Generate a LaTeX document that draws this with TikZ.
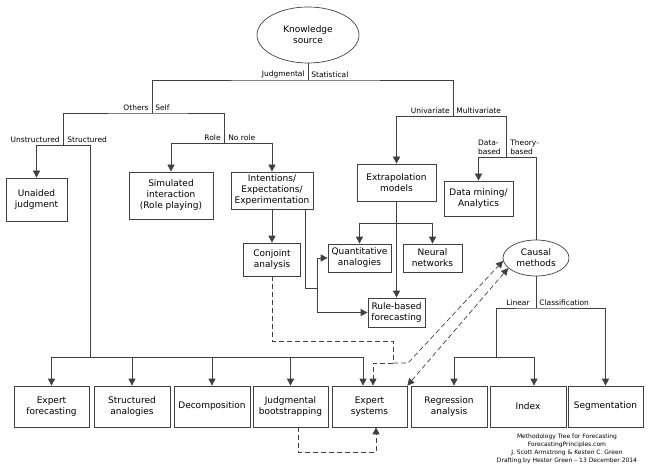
\documentclass[tikz,border=0pt]{standalone}
\usepackage{fontspec}
\setmainfont{DejaVu Sans}
\usetikzlibrary{shapes.geometric,arrows.meta}

\begin{document}
\begin{tikzpicture}[x=1pt, y=-1pt, line width=0.7pt,
    method/.style={rectangle, draw=black!75, inner sep=1pt, align=center, font=\fontsize{9}{11}\selectfont},
    hub/.style={ellipse, draw=black!75, inner sep=1pt, align=center, font=\fontsize{9}{11}\selectfont},
    branch/.style={inner sep=1pt, font=\fontsize{7.5}{9.5}\selectfont},
    flow/.style={draw=black!75, -{Triangle[length=7pt,width=7pt]}},
    link/.style={draw=black!75, dash pattern=on 5pt off 3pt}
]
\useasboundingbox (0,0) rectangle (653,465);

% Knowledge source
\node[hub, minimum width=102, minimum height=56] (ks) at (308,35) {Knowledge\\source};

% Judgmental methods
\node[method, minimum width=61, minimum height=43] (unaided) at (36.5,199.5) {Unaided\\judgment};
\node[method, minimum width=84, minimum height=47] (sim) at (171,195.5) {Simulated\\interaction\\(Role playing)};
\node[method, minimum width=82, minimum height=37] (int) at (272,190.5) {Intentions/\\Expectations/\\Experimentation};
\node[method, minimum width=57, minimum height=33] (conj) at (272,259.5) {Conjoint\\analysis};

% Statistical methods
\node[method, minimum width=79, minimum height=37] (ext) at (396.5,182.5) {Extrapolation\\models};
\node[method, minimum width=69, minimum height=35] (dm) at (478.5,198.5) {Data mining/\\Analytics};
\node[method, minimum width=63, minimum height=28] (quant) at (359.5,258) {Quantitative\\analogies};
\node[method, minimum width=59, minimum height=28] (neural) at (432.5,258) {Neural\\networks};
\node[method, minimum width=57, minimum height=29] (rule) at (396.5,312.5) {Rule-based\\forecasting};
\node[hub, minimum width=66, minimum height=36] (caus) at (536,258) {Causal\\methods};

% Bottom row
\node[method, minimum width=75, minimum height=41] (ef) at (51.5,406.5) {Expert\\forecasting};
\node[method, minimum width=76, minimum height=41] (sa) at (132,406.5) {Structured\\analogies};
\node[method, minimum width=76, minimum height=41] (dec) at (212,406.5) {Decomposition};
\node[method, minimum width=75, minimum height=41] (jb) at (290.5,406.5) {Judgmental\\bootstrapping};
\node[method, minimum width=75, minimum height=41] (es) at (369.5,406.5) {Expert\\systems};
\node[method, minimum width=76, minimum height=41] (reg) at (449,406.5) {Regression\\analysis};
\node[method, minimum width=76, minimum height=41] (idx) at (528,406.5) {Index};
\node[method, minimum width=75, minimum height=41] (seg) at (605.5,406.5) {Segmentation};

% Junctions
\coordinate (jks) at (308,80);
\coordinate (jjud) at (152,113);
\coordinate (jstat) at (453,116);
\coordinate (joth) at (63,145);
\coordinate (jself) at (224,143);
\coordinate (jstr) at (90,357);
\coordinate (jint) at (317,288);
\coordinate (jext) at (396.5,223);
\coordinate (jmulti) at (506,157);
\coordinate (jcaus) at (536,308);
\coordinate (jlin) at (496,357);

% Branch labels
\node[branch, anchor=south east] (ljud) at (306,79) {Judgmental};
\node[branch, anchor=south west] (lstat) at (310,79) {Statistical};
\node[branch, anchor=south east] (loth) at (150,112) {Others};
\node[branch, anchor=south west] (lself) at (154,112) {Self};
\node[branch, anchor=south east] (lunstr) at (61,144) {Unstructured};
\node[branch, anchor=south west] (lstr) at (66,144) {Structured};
\node[branch, anchor=south east] (lrole) at (222,142) {Role};
\node[branch, anchor=south west] (lnorole) at (227,142) {No role};
\node[branch, anchor=south east] (luni) at (451,115) {Univariate};
\node[branch, anchor=south west] (lmulti) at (455,115) {Multivariate};
\node[branch, anchor=south east, align=left] (ldata) at (502,156) {Data-\\based};
\node[branch, anchor=south west, align=left] (ltheory) at (509,156) {Theory-\\based};
\node[branch, anchor=south east] (llin) at (531,307) {Linear};
\node[branch, anchor=south west] (lclass) at (538,307) {Classification};

% Tree connectors
\draw[draw=black!75] (ks) -- (jks);
\draw[draw=black!75] (jjud) |- (jks) -| (jstat);
\draw[draw=black!75] (joth) |- (jjud) -| (jself);
\draw[flow] (joth) -| (unaided);
\draw[draw=black!75] (joth) -| (jstr);
\draw[flow] (jself) -| (sim);
\draw[flow] (jself) -| (int);
\draw[flow] (int) -- (conj);
\draw[draw=black!75] ([xshift=33pt]int.south) |- (jint);
\draw[flow] (jint) |- (quant);
\draw[flow] (jint) |- (rule);
\draw[flow] (jstat) -| (ext);
\draw[draw=black!75] (jstat) -| (jmulti);
\draw[flow] (ext) -- (rule);
\draw[flow] (jext) -| (quant);
\draw[flow] (jext) -| (neural);
\draw[flow] (jmulti) -| (dm);
\draw[draw=black!75] (jmulti) -| (caus);
\draw[draw=black!75] (caus) -- (jcaus);
\draw[flow] (jlin) |- (jcaus) -| (seg);
\draw[flow] (jlin) -| ([xshift=5pt]reg.north);
\draw[flow] (jlin) -| ([xshift=6pt]idx.north);

% Structured methods
\draw[flow] (jstr) -| (ef);
\draw[flow] (jstr) -| (sa);
\draw[flow] (jstr) -| (dec);
\draw[flow] (jstr) -| (jb);
\draw[flow] (jstr) -| ([xshift=-6.5pt]es.north);

% Dashed links
\coordinate (jcj1) at (393,341);
\coordinate (jcj) at (393,363);
\coordinate (jcj2) at (408,363);
\coordinate (jjb) at (376,452);
\draw[link] (conj) |- (jcj1) -- (jcj);
\draw[link, flow] (jcj) -| ([xshift=3.5pt]es.north);
\draw[link, flow] (jcj) -- (jcj2) -- (caus.185);
\draw[link, flow, {Triangle[length=7pt,width=7pt]}-{Triangle[length=7pt,width=7pt]}] (es.north east) -- (caus.200);
\draw[link, flow] ([xshift=7.5pt]jb.south) |- (jjb) -- ([xshift=6.5pt]es.south);

% Credits
\node[font=\fontsize{6}{8}\selectfont, align=center] (credit) at (567,449) {Methodology Tree for Forecasting\\ForecastingPrinciples.com\\J. Scott Armstrong \& Kesten C. Green\\Drafting by Hester Green – 13 December 2014};
\end{tikzpicture}
\end{document}
